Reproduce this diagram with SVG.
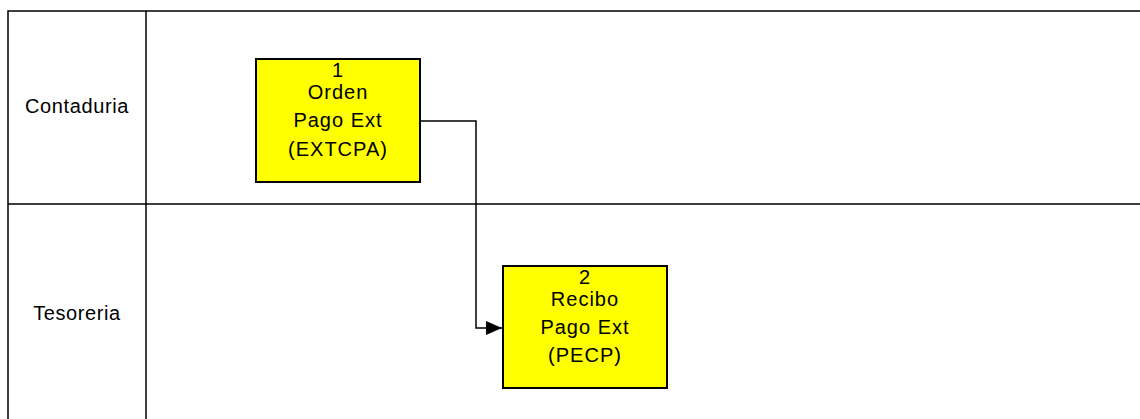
<svg xmlns="http://www.w3.org/2000/svg" width="1140" height="419" viewBox="0 0 1140 419">
<defs>
<style>
.lane{fill:none;stroke:#000;stroke-width:1.5}
.lbl{font-family:"Liberation Sans",Arial,sans-serif;font-size:20px;letter-spacing:0.6px;fill:#000;text-anchor:middle}
.node{fill:#ffff00;stroke:#000;stroke-width:2}
.ntx{font-family:"Liberation Sans",Arial,sans-serif;font-size:20px;letter-spacing:1px;fill:#000;text-anchor:middle}
.conn{fill:none;stroke:#000;stroke-width:1.5}
</style>
<marker id="arr" markerWidth="16" markerHeight="14" refX="16" refY="7" orient="auto" markerUnits="userSpaceOnUse">
<path d="M0,0 L16,7 L0,14 Z" fill="#000"/>
</marker>
</defs>
<rect width="1140" height="419" fill="#fff"/>
<g id="lanes">
<path class="lane" d="M1140,11 H8 V419 M146,11 V419 M8,204 H1140"/>
<text class="lbl" x="77" y="113">Contaduria</text>
<text class="lbl" x="77" y="320">Tesoreria</text>
</g>
<g id="connectors">
<path class="conn" d="M420,121 H476 V328 H502" marker-end="url(#arr)"/>
</g>
<g id="node1">
<rect class="node" x="256" y="59" width="164" height="123"/>
<text class="ntx" x="338" y="77">1</text>
<text class="ntx" x="338" y="99">Orden</text>
<text class="ntx" x="338" y="127">Pago Ext</text>
<text class="ntx" x="338" y="156">(EXTCPA)</text>
</g>
<g id="node2">
<rect class="node" x="503" y="266" width="164" height="122"/>
<text class="ntx" x="585" y="284">2</text>
<text class="ntx" x="585" y="306">Recibo</text>
<text class="ntx" x="585" y="334">Pago Ext</text>
<text class="ntx" x="585" y="362">(PECP)</text>
</g>
</svg>
